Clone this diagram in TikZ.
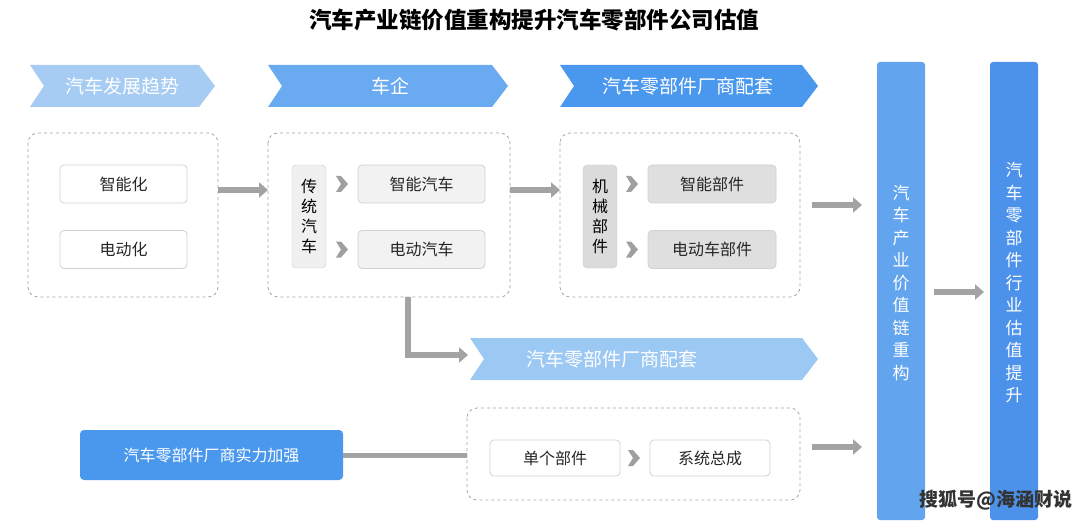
\documentclass[tikz,border=0pt]{standalone}
\usepackage{fontspec}
\setmainfont{Noto Sans CJK SC}
\usetikzlibrary{arrows.meta}
\definecolor{bA}{HTML}{A6CCF4}
\definecolor{bB}{HTML}{6AAAF0}
\definecolor{bC}{HTML}{4A97EE}
\definecolor{bD}{HTML}{9CC8F4}
\definecolor{barA}{HTML}{62A4EE}
\definecolor{barB}{HTML}{4D92EA}
\definecolor{ga}{HTML}{A3A3A3}
\begin{document}
\begin{tikzpicture}[x=1pt,y=-1pt,
 btxt/.style={text=white,font=\fontsize{19}{22}\selectfont},
 dbox/.style={draw=gray!70,dashed,rounded corners=10pt,line width=0.8pt},
 ibox/.style={draw=gray!35,rounded corners=4pt,line width=0.8pt,minimum height=38pt,font=\fontsize{16}{18}\selectfont,text=black!85},
 vbox/.style={draw=gray!40,rounded corners=4pt,minimum width=34pt,minimum height=103pt,align=center,font=\fontsize{16}{20}\selectfont,inner sep=0pt},
 garr/.style={ga,line width=6pt,-{Triangle[length=9pt,width=15pt]}},
 chev/.style={minimum width=12pt,minimum height=16pt,inner sep=0pt,
   path picture={\fill[gray!75] (path picture bounding box.north west) -- ++(5pt,0) -- (path picture bounding box.east) -- ([xshift=5pt]path picture bounding box.south west) -- (path picture bounding box.south west) -- ([xshift=-7pt]path picture bounding box.east) -- cycle;}},
 bar/.style={rounded corners=3pt},
 vtxt/.style={text=white,align=center,font=\fontsize{17}{22.5}\selectfont}]
\useasboundingbox (0,0) rectangle (1080,524);
\fill[white] (0,0) rectangle (1080,524);
\node[font=\fontsize{22.5}{24}\selectfont\bfseries] (title) at (534,20) {汽车产业链价值重构提升汽车零部件公司估值};
% banners
\def\banner#1#2#3#4#5{\fill[#5] (#1,#3) -- (#2-16,#3) -- (#2,#3/2+#4/2) -- (#2-16,#4) -- (#1,#4) -- (#1+14,#3/2+#4/2) -- cycle;}
\banner{30}{215}{65}{107}{bA}
\banner{268}{508}{65}{107}{bB}
\banner{560}{818}{65}{107}{bC}
\banner{470}{818}{338}{380}{bD}
\node[btxt] (b1) at (122,86) {汽车发展趋势};
\node[btxt] (b2) at (390,86) {车企};
\node[btxt] (b3) at (688,86) {汽车零部件厂商配套};
\node[btxt] (b4) at (612,359) {汽车零部件厂商配套};
% dashed boxes
\draw[dbox] (28,133) rectangle (218,297);
\draw[dbox] (268,133) rectangle (510,297);
\draw[dbox] (560,133) rectangle (800,297);
\draw[dbox] (467,408) rectangle (800,500);
\coordinate (d1e) at (218,190);
\coordinate (d2w) at (268,190);
\coordinate (d2e) at (510,190);
\coordinate (d3w) at (560,190);
\coordinate (d2s) at (408,297);
% inner boxes
\node[ibox,fill=white,minimum width=127pt] (s1) at (123.5,184) {智能化};
\node[ibox,fill=white,minimum width=127pt] (s2) at (123.5,249.5) {电动化};
\node[vbox,fill=gray!12] (ct) at (309,216.5) {传\\统\\汽\\车};
\node[ibox,fill=gray!10,minimum width=127pt] (c1) at (421.5,184) {智能汽车};
\node[ibox,fill=gray!10,minimum width=127pt] (c2) at (421.5,249.5) {电动汽车};
\node[chev] (k1) at (342,184) {};
\node[chev] (k2) at (342,249.5) {};
\node[vbox,fill=gray!28] (jx) at (600,216.5) {机\\械\\部\\件};
\node[ibox,fill=gray!25,minimum width=128pt] (p1) at (712,184) {智能部件};
\node[ibox,fill=gray!25,minimum width=128pt] (p2) at (712,249.5) {电动车部件};
\node[chev] (k3) at (632,184) {};
\node[chev] (k4) at (632,249.5) {};
\node[ibox,fill=white,minimum width=130pt,minimum height=36pt] (q1) at (555,458) {单个部件};
\node[ibox,fill=white,minimum width=120pt,minimum height=36pt] (q2) at (710,458) {系统总成};
\node[chev] (k5) at (634,458) {};
\node[fill=bC,rounded corners=4pt,minimum width=263pt,minimum height=50pt,text=white,font=\fontsize{16}{18}\selectfont] (sl) at (211.5,455) {汽车零部件厂商实力加强};
\coordinate (d4w) at (467,455);
% bars
\fill[barA,bar] (877,62) rectangle (925,520);
\fill[barB,bar] (990,62) rectangle (1038,520);
\node[vtxt] (v1) at (901,283) {汽\\车\\产\\业\\价\\值\\链\\重\\构};
\node[vtxt] (v2) at (1014,283) {汽\\车\\零\\部\\件\\行\\业\\估\\值\\提\\升};
\coordinate (r1a) at (812,205); \coordinate (r1b) at (862,205);
\coordinate (r2a) at (812,447); \coordinate (r2b) at (862,447);
\coordinate (r3a) at (934,292); \coordinate (r3b) at (984,292);
\coordinate (b4w) at (468,355);
% arrows
\draw[garr] (d1e) -- (d2w);
\draw[garr] (d2e) -- (d3w);
\draw[garr] (r1a) -- (r1b);
\draw[garr] (r2a) -- (r2b);
\draw[garr] (r3a) -- (r3b);
\draw[garr] (d2s) |- (b4w);
\draw[ga,line width=5pt] (sl.east) -- (d4w);
\node[text=black!80,font=\fontsize{19}{20}\selectfont\bfseries,anchor=east] (wm) at (1076,500) {搜狐号@海涵财说};
\end{tikzpicture}
\end{document}
